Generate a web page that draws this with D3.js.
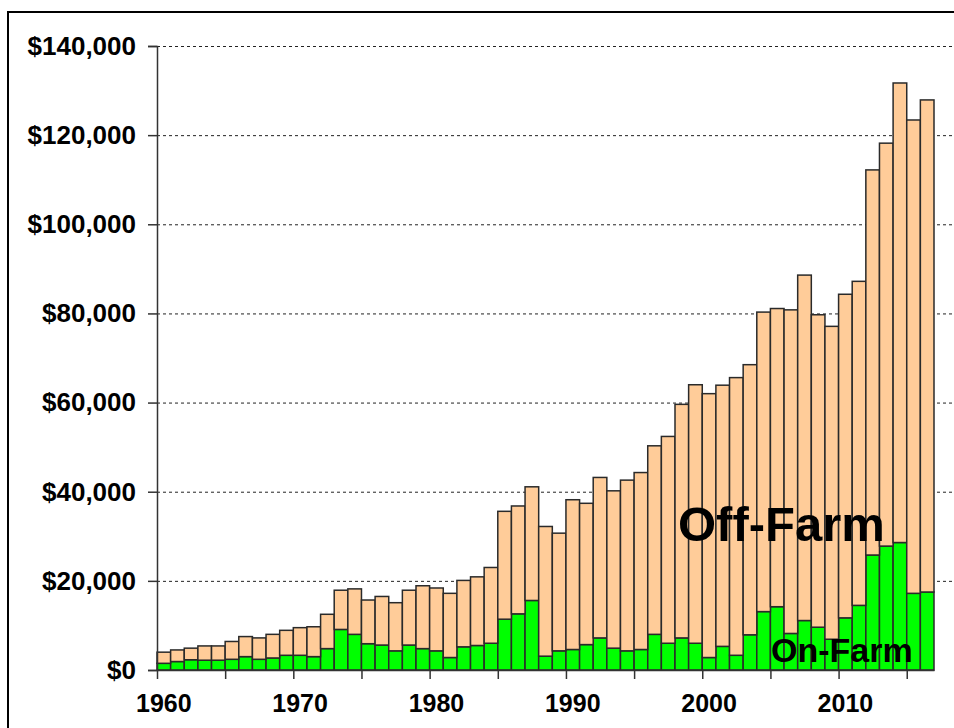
<!DOCTYPE html>
<html>
<head>
<meta charset="utf-8">
<script src="https://cdn.jsdelivr.net/npm/d3@7/dist/d3.min.js"></script>
<style>
body{margin:0;background:#fff;}
text{font-family:"Liberation Sans",Arial,sans-serif;font-weight:bold;}
</style>
</head>
<body>
<script>
var years=d3.range(1960,2017);
var onFarm=[1500,1900,2300,2200,2200,2400,3000,2400,2700,3300,
	3300,3000,4800,9100,8000,5900,5600,4300,5600,4800,
	4300,2800,5200,5500,6000,11400,12600,15600,3100,4300,
	4600,5700,7200,4900,4300,4600,8000,6000,7200,6000,
	2800,5300,3300,7900,13100,14200,8200,11100,9600,6900,
	11700,14500,25800,27800,28600,17200,17500];
var offFarm=[2500,2600,2600,3200,3200,4000,4500,4800,5300,5600,
	6200,6700,7700,8800,10200,9800,10900,10800,12300,14100,
	14100,14400,14900,15400,17000,24200,24200,25500,29100,26400,
	33600,31700,36000,35300,38300,39700,42300,46400,52400,58000,
	59200,58600,62300,60600,67200,66900,72600,77500,70100,70200,
	72600,72700,86400,90400,103100,106200,110400];
var yTicks=[0,20000,40000,60000,80000,100000,120000,140000];
var xTicks=[1960,1965,1970,1975,1980,1985,1990,1995,2000,2005,2010,2015];
var xLabels=[1960,1970,1980,1990,2000,2010];

var width=954,height=728;
var svg=d3.select('body').append('svg')
	.attr('width',width)
	.attr('height',height);

var x=d3.scaleLinear().domain([1960,2017]).range([157,934]);
var y=d3.scaleLinear().domain([0,140000]).range([670,46]);

// outer frame (cut off at right and bottom)
svg.append('rect')
	.attr('x',8).attr('y',12)
	.attr('width',980).attr('height',760)
	.attr('fill','none')
	.attr('stroke','#000')
	.attr('stroke-width',2);

// dashed gridlines
svg.append('g').selectAll('line')
	.data(yTicks.slice(1))
	.enter().append('line')
	.attr('x1',x(1960)).attr('x2',width+5)
	.attr('y1',function(d){return y(d)+0.5;})
	.attr('y2',function(d){return y(d)+0.5;})
	.attr('stroke','#222')
	.attr('stroke-dasharray','3,3');

var data=years.map(function(yr,i){return {year:yr,on:onFarm[i],off:offFarm[i]};});
var stack=d3.stack().keys(['on','off'])(data);
var colors={on:'#00ff00',off:'#ffcc99'};

svg.append('g').selectAll('g')
	.data(stack)
	.enter().append('g')
	.attr('fill',function(s){return colors[s.key];})
	.selectAll('rect')
	.data(function(s){return s;})
	.enter().append('rect')
	.attr('x',function(d){return x(d.data.year);})
	.attr('y',function(d){return y(d[1]);})
	.attr('width',function(d){return x(d.data.year+1)-x(d.data.year);})
	.attr('height',function(d){return y(d[0])-y(d[1]);})
	.attr('stroke','#2a2a2a')
	.attr('stroke-width',1.5);

// axes
var yAxis=d3.axisLeft(y).tickValues(yTicks).tickSize(9).tickPadding(12)
	.tickFormat(function(d){return '$'+d3.format(',')(d);});
var gy=svg.append('g').attr('transform','translate(157,0)').call(yAxis);
gy.select('.domain').attr('stroke','#333').attr('stroke-width',1.5);
gy.selectAll('.tick line').attr('stroke','#333').attr('stroke-width',1.5);
gy.selectAll('.tick text').attr('fill','#000').style('font-size','26px').style('font-family','"Liberation Sans",Arial').style('font-weight','bold');

var xAxis=d3.axisBottom(x).tickValues(xTicks).tickSize(9).tickSizeOuter(0).tickFormat('');
var gx=svg.append('g').attr('transform','translate(0,670)').call(xAxis);
gx.select('.domain').attr('stroke','#333').attr('stroke-width',1.5);
gx.selectAll('.tick line').attr('stroke','#333').attr('stroke-width',1.5);

svg.append('g').selectAll('text')
	.data(xLabels)
	.enter().append('text')
	.attr('x',function(d){return x(d+0.5);})
	.attr('y',712)
	.attr('text-anchor','middle')
	.style('font-size','25px')
	.text(function(d){return d;});

// series labels
svg.append('text')
	.attr('x',678).attr('y',541)
	.style('font-size','49px')
	.text('Off-Farm');
svg.append('text')
	.attr('x',771).attr('y',662)
	.style('font-size','34px')
	.text('On-Farm');
</script>
</body>
</html>
